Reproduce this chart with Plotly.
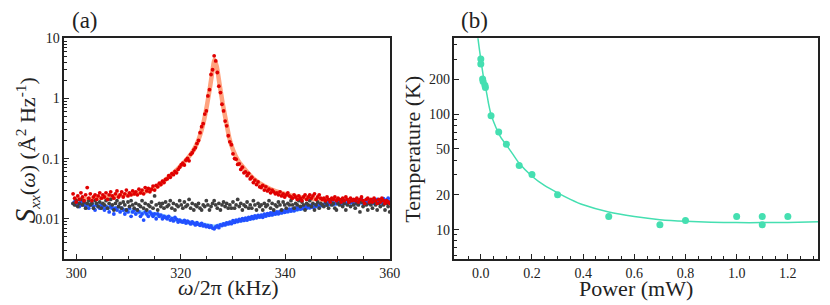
import numpy as np
import plotly.graph_objects as go

# ---------------- Panel (a) data ----------------
freq_khz = np.round(299.4 + 0.3 * np.arange(203), 2)

red_s = [
    0.026, 0.022, 0.019, 0.024, 0.021, 0.027, 0.023, 0.020, 0.025, 0.033,
    0.022, 0.026, 0.020, 0.023, 0.025, 0.021, 0.024, 0.027, 0.022, 0.025,
    0.023, 0.027, 0.021, 0.025, 0.028, 0.024, 0.022, 0.026, 0.029, 0.023,
    0.025, 0.028, 0.023, 0.026, 0.030, 0.024, 0.027, 0.025, 0.029, 0.026,
    0.028, 0.025, 0.031, 0.027, 0.030, 0.026, 0.033, 0.029, 0.032, 0.028,
    0.031, 0.035, 0.030, 0.036, 0.034, 0.039, 0.037, 0.042, 0.040, 0.045,
    0.046, 0.052, 0.049, 0.056, 0.054, 0.061, 0.058, 0.066, 0.072, 0.079,
    0.084, 0.078, 0.094, 0.101, 0.092, 0.118, 0.125, 0.140, 0.152, 0.178,
    0.20, 0.27, 0.34, 0.38, 0.55, 0.62, 1.1, 1.4, 2.5, 3.0,
    5.1, 4.2, 2.7, 1.6, 1.25, 0.80, 0.62, 0.42, 0.35, 0.24,
    0.19, 0.17, 0.12, 0.10, 0.098, 0.080, 0.082, 0.066, 0.072, 0.058,
    0.060, 0.052, 0.057, 0.046, 0.049, 0.040, 0.044, 0.037, 0.041, 0.034,
    0.033, 0.036, 0.030, 0.034, 0.029, 0.031, 0.027, 0.030, 0.028, 0.026,
    0.027, 0.025, 0.028, 0.024, 0.026, 0.023, 0.025, 0.027, 0.024, 0.023,
    0.022, 0.025, 0.023, 0.021, 0.024, 0.022, 0.020, 0.023, 0.025, 0.021,
    0.023, 0.025, 0.022, 0.024, 0.026, 0.021, 0.023, 0.025, 0.022, 0.021,
    0.022, 0.020, 0.023, 0.021, 0.019, 0.022, 0.021, 0.023, 0.020, 0.022,
    0.021, 0.019, 0.022, 0.020, 0.023, 0.021, 0.019, 0.022, 0.020, 0.021,
    0.020, 0.022, 0.019, 0.021, 0.023, 0.020, 0.018, 0.021, 0.022, 0.019,
    0.021, 0.019, 0.022, 0.020, 0.018, 0.021, 0.019, 0.022, 0.020, 0.018,
    0.020, 0.019, 0.018,
]

grey_s = [
    0.018, 0.017, 0.020, 0.016, 0.018, 0.021, 0.017, 0.019, 0.015, 0.018,
    0.020, 0.017, 0.018, 0.015, 0.020, 0.018, 0.016, 0.019, 0.015, 0.018,
    0.017, 0.020, 0.015, 0.018, 0.021, 0.017, 0.014, 0.018, 0.020, 0.016,
    0.018, 0.015, 0.019, 0.017, 0.014, 0.019, 0.016, 0.020, 0.017, 0.015,
    0.018, 0.014, 0.017, 0.016, 0.020, 0.015, 0.018, 0.014, 0.017, 0.016,
    0.019, 0.015, 0.024, 0.017, 0.014, 0.018, 0.016, 0.018, 0.015, 0.019,
    0.016, 0.017, 0.020, 0.015, 0.018, 0.014, 0.017, 0.016, 0.020, 0.017,
    0.015, 0.019, 0.016, 0.017, 0.021, 0.015, 0.018, 0.014, 0.017, 0.016,
    0.018, 0.015, 0.014, 0.017, 0.016, 0.020, 0.017, 0.014, 0.016, 0.018,
    0.020, 0.017, 0.015, 0.018, 0.014, 0.017, 0.019, 0.016, 0.018, 0.015,
    0.017, 0.015, 0.019, 0.015, 0.017, 0.021, 0.016, 0.018, 0.014, 0.017,
    0.016, 0.019, 0.015, 0.017, 0.015, 0.020, 0.017, 0.014, 0.018, 0.016,
    0.017, 0.014, 0.018, 0.016, 0.017, 0.020, 0.015, 0.018, 0.014, 0.017,
    0.016, 0.019, 0.017, 0.014, 0.019, 0.017, 0.015, 0.018, 0.017, 0.020,
    0.017, 0.015, 0.018, 0.017, 0.020, 0.016, 0.019, 0.017, 0.014, 0.018,
    0.017, 0.020, 0.016, 0.018, 0.014, 0.017, 0.019, 0.015, 0.018, 0.017,
    0.016, 0.019, 0.017, 0.015, 0.020, 0.017, 0.018, 0.015, 0.014, 0.018,
    0.017, 0.020, 0.016, 0.018, 0.014, 0.017, 0.019, 0.016, 0.020, 0.017,
    0.015, 0.018, 0.017, 0.013, 0.019, 0.016, 0.018, 0.017, 0.014, 0.018,
    0.017, 0.015, 0.019, 0.017, 0.014, 0.018, 0.016, 0.020, 0.017, 0.014,
    0.018, 0.016, 0.013,
]

blue_s = [
    0.018, 0.019, 0.017, 0.018, 0.016, 0.019, 0.017, 0.018, 0.016, 0.017,
    0.015, 0.017, 0.018, 0.016, 0.014, 0.017, 0.016, 0.015, 0.017, 0.016,
    0.014, 0.016, 0.015, 0.013, 0.016, 0.015, 0.012, 0.015, 0.014, 0.016,
    0.013, 0.015, 0.014, 0.012, 0.014, 0.013, 0.015, 0.011, 0.013, 0.014,
    0.012, 0.014, 0.013, 0.011, 0.012, 0.0095, 0.013, 0.012, 0.011, 0.013,
    0.012, 0.011, 0.012, 0.010, 0.012, 0.011, 0.0115, 0.010, 0.011, 0.0105,
    0.010, 0.011, 0.0095, 0.010, 0.0092, 0.0105, 0.0098, 0.0088, 0.0095, 0.009,
    0.0088, 0.0094, 0.0085, 0.0091, 0.0087, 0.0082, 0.0089, 0.0084, 0.0079, 0.0086,
    0.0081, 0.0078, 0.0084, 0.0076, 0.0079, 0.0074, 0.0077, 0.0072, 0.0076, 0.0070,
    0.0068, 0.0073, 0.0076, 0.0071, 0.0079, 0.0077, 0.0082, 0.0079, 0.0085, 0.0082,
    0.0088, 0.0083, 0.0093, 0.0087, 0.0095, 0.0090, 0.0098, 0.0092, 0.0100, 0.0094,
    0.0102, 0.0095, 0.0105, 0.0099, 0.0108, 0.0101, 0.0112, 0.0104, 0.0114, 0.0107,
    0.0115, 0.0106, 0.0119, 0.0111, 0.0122, 0.0114, 0.0125, 0.0116, 0.0128, 0.0120,
    0.0130, 0.0121, 0.0133, 0.0125, 0.0137, 0.0128, 0.0141, 0.0131, 0.0144, 0.0134,
    0.0146, 0.0136, 0.0151, 0.0142, 0.0156, 0.0145, 0.0158, 0.0148, 0.0162, 0.0151,
    0.0163, 0.0152, 0.0168, 0.0156, 0.0171, 0.0160, 0.0174, 0.0163, 0.0177, 0.0165,
    0.0172, 0.0180, 0.0168, 0.0185, 0.0175, 0.0190, 0.0172, 0.0182, 0.0178, 0.0195,
    0.0180, 0.0192, 0.0175, 0.0200, 0.0183, 0.0178, 0.0195, 0.0185, 0.0205, 0.0180,
    0.0190, 0.0178, 0.0200, 0.0185, 0.0210, 0.0182, 0.0195, 0.0188, 0.0178, 0.0200,
    0.0185, 0.0205, 0.0180, 0.0195, 0.0210, 0.0188, 0.0200, 0.0182, 0.0215, 0.0190,
    0.0205, 0.0220, 0.0195,
]

red_fit_f = [299.5, 303, 306, 309, 312, 314, 316, 317, 318, 319, 320, 321, 322, 323,
             323.8, 324.5, 325.0, 325.5, 326.0, 326.45, 326.9, 327.4, 328.0, 328.6,
             329.3, 330.0, 331, 332.5, 334, 336, 338, 341, 344, 348, 352, 356, 360]
red_fit_s = [0.0207, 0.0216, 0.0231, 0.0248, 0.0268, 0.0295, 0.037, 0.044, 0.052, 0.062,
             0.076, 0.094, 0.120, 0.170, 0.26, 0.45, 0.75, 1.35, 2.6, 4.4, 3.4, 1.8, 0.85,
             0.45, 0.22, 0.14, 0.092, 0.063, 0.046, 0.035, 0.029, 0.0245, 0.0222, 0.0205,
             0.0198, 0.0193, 0.019]

blue_fit_f = [299.5, 303, 306, 309, 312, 314, 317, 320, 323, 325, 326.3, 327.5, 330, 333,
              336, 339, 342.6, 346, 350, 355, 360]
blue_fit_s = [0.0187, 0.0172, 0.0155, 0.0140, 0.0128, 0.0122, 0.0108, 0.0092, 0.0083,
              0.0078, 0.0074, 0.0078, 0.0088, 0.0100, 0.0113, 0.0127, 0.0145, 0.0165,
              0.0178, 0.0185, 0.0190]

# ---------------- Panel (b) data ----------------
power_mw = [0.0, 0.0, 0.007, 0.009, 0.016, 0.018, 0.04, 0.07, 0.1, 0.15, 0.2, 0.3,
            0.5, 0.7, 0.8, 1.0, 1.1, 1.1, 1.2]
temp_k = [300, 272, 202, 192, 178, 170, 97, 70, 55, 36, 30, 20, 13, 11, 12, 13, 13, 11, 13]

fit_power = [-0.012, -0.008, -0.004, 0.0, 0.005, 0.01, 0.015, 0.02, 0.03, 0.04, 0.05,
             0.066, 0.08, 0.1, 0.125, 0.15, 0.2, 0.25, 0.3, 0.35, 0.4, 0.5, 0.6, 0.7,
             0.8, 0.9, 1.0, 1.1, 1.2, 1.32]
fit_temp = [470, 400, 345, 300, 250, 212, 185, 165, 124, 99, 86, 71, 62, 54, 45, 37.5,
            29, 24, 20.8, 18.3, 16.4, 14.2, 13.0, 12.2, 11.8, 11.6, 11.5, 11.5, 11.55, 11.7]

# ---------------- Layout helpers ----------------
W, H = 830, 305
def px(x):
    return x / W
def py(y):
    return 1 - y / H

FONT = "Liberation Serif"
AX = "#222222"
TEAL = "#45dfb1"

fig = go.Figure()

fig.add_trace(go.Scatter(x=red_fit_f, y=red_fit_s, mode="lines",
                         line=dict(color="#ffa37f", width=4.5, shape="spline", smoothing=0.5),
                         xaxis="x", yaxis="y", hoverinfo="skip"))
fig.add_trace(go.Scatter(x=blue_fit_f, y=blue_fit_s, mode="lines",
                         line=dict(color="#8fd0fb", width=4.5, shape="spline", smoothing=0.5),
                         xaxis="x", yaxis="y", hoverinfo="skip"))
fig.add_trace(go.Scatter(x=freq_khz, y=blue_s, mode="markers",
                         marker=dict(color="#2250ff", size=3.8), xaxis="x", yaxis="y"))
fig.add_trace(go.Scatter(x=freq_khz, y=grey_s, mode="markers",
                         marker=dict(color="#404040", size=3.8), xaxis="x", yaxis="y"))
fig.add_trace(go.Scatter(x=freq_khz, y=red_s, mode="markers",
                         marker=dict(color="#e00000", size=3.8), xaxis="x", yaxis="y"))

fig.add_trace(go.Scatter(x=fit_power, y=fit_temp, mode="lines",
                         line=dict(color=TEAL, width=1.5, shape="spline", smoothing=0.6),
                         xaxis="x2", yaxis="y2", hoverinfo="skip"))
fig.add_trace(go.Scatter(x=power_mw, y=temp_k, mode="markers",
                         marker=dict(color=TEAL, size=7), xaxis="x2", yaxis="y2"))

ydom = [py(258), py(32)]

def minor_log(decades, mults):
    return [m * 10 ** d for d in decades for m in mults]

axis_common = dict(showline=True, linecolor=AX, linewidth=1.5, mirror=True,
                   ticks="inside", tickcolor=AX, tickwidth=1, ticklen=5,
                   showgrid=False, zeroline=False,
                   tickfont=dict(family=FONT, size=14, color=AX))

fig.update_layout(
    width=W, height=H,
    margin=dict(l=0, r=0, t=0, b=0),
    paper_bgcolor="white", plot_bgcolor="white",
    showlegend=False,
    font=dict(family=FONT, color=AX),
    xaxis=dict(domain=[px(65), px(395)], range=[297.7, 360.1], anchor="y",
               tickmode="array", tickvals=[300, 320, 340, 360],
               minor=dict(tickmode="array",
                          tickvals=[305, 310, 315, 325, 330, 335, 345, 350, 355],
                          ticks="inside", ticklen=3, tickcolor=AX, showgrid=False),
               **axis_common),
    yaxis=dict(domain=ydom, type="log", range=[-2.67, 1.0], anchor="x",
               tickmode="array", tickvals=[0.01, 0.1, 1, 10],
               ticktext=["0.01", "0.1", "1", "10"],
               minor=dict(tickmode="array",
                          tickvals=minor_log([-3, -2, -1, 0], [2, 3, 4, 5, 6, 7, 8, 9]),
                          ticks="inside", ticklen=3, tickcolor=AX, showgrid=False),
               **axis_common),
    xaxis2=dict(domain=[px(460), px(828)], range=[-0.103, 1.318], anchor="y2",
                tickmode="array", tickvals=[0, 0.2, 0.4, 0.6, 0.8, 1.0, 1.2],
                ticktext=["0.0", "0.2", "0.4", "0.6", "0.8", "1.0", "1.2"],
                minor=dict(tickmode="array",
                           tickvals=[-0.05, 0.05, 0.1, 0.15, 0.25, 0.3, 0.35, 0.45, 0.5,
                                     0.55, 0.65, 0.7, 0.75, 0.85, 0.9, 0.95, 1.05, 1.1,
                                     1.15, 1.25, 1.3],
                           ticks="inside", ticklen=3, tickcolor=AX, showgrid=False),
                **axis_common),
    yaxis2=dict(domain=ydom, type="log", range=[0.745, 2.657], anchor="x2",
                tickmode="array", tickvals=[10, 20, 50, 100, 200],
                ticktext=["10", "20", "50", "100", "200"],
                minor=dict(tickmode="array",
                           tickvals=[6, 7, 8, 9, 30, 40, 60, 70, 80, 90, 300, 400],
                           ticks="inside", ticklen=3, tickcolor=AX, showgrid=False),
                **axis_common),
)

def ann(size):
    return dict(showarrow=False, xref="paper", yref="paper",
                font=dict(family=FONT, size=size, color=AX))

fig.add_annotation(text="(a)", x=px(86), y=py(14), xanchor="center", yanchor="middle", **ann(23))
fig.add_annotation(text="(b)", x=px(480), y=py(14), xanchor="center", yanchor="middle", **ann(23))
fig.add_annotation(text="<i>ω</i>/2π (kHz)", x=px(231), y=py(287),
                   xanchor="center", yanchor="middle", **ann(22))
fig.add_annotation(text="Power (mW)", x=px(644), y=py(288),
                   xanchor="center", yanchor="middle", **ann(22))
fig.add_annotation(text="Temperature (K)", x=px(418), y=py(145), textangle=-90,
                   xanchor="center", yanchor="middle", **ann(22))
fig.add_annotation(
    text='<i><span style="font-size:29px">S</span></i><sub><i>xx</i></sub>(<i>ω</i>) (Å<sup>2</sup> Hz<sup>-1</sup>)',
    x=px(26), y=py(147), textangle=-90, xanchor="center", yanchor="middle", **ann(22))

fig.write_html(
    "out.html",
    config={"displayModeBar": False},
    post_script="document.body.style.margin='0';document.body.style.overflow='hidden';",
)
